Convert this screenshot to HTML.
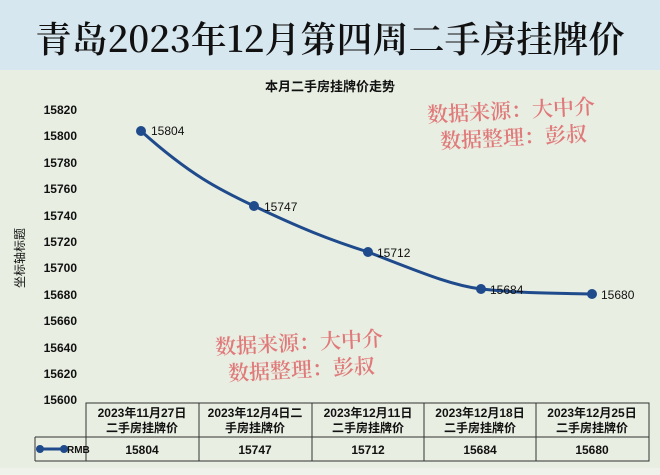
<!DOCTYPE html>
<html><head><meta charset="utf-8"><style>
body{margin:0;width:660px;height:475px;overflow:hidden;background:#eef2ea;font-family:"Liberation Sans","Noto Sans CJK SC",sans-serif}
</style></head><body>
<svg width="660" height="475" xmlns="http://www.w3.org/2000/svg" style="position:absolute;left:0;top:0">
<rect x="0" y="0" width="660" height="475" fill="#eef2ea"/>
<rect x="0" y="0" width="660" height="70" fill="#d7e7ef"/>
<rect x="0" y="70" width="660" height="398" fill="#e8eee2"/>
<text x="330" y="52" text-anchor="middle" font-family="Noto Serif CJK SC,serif" font-size="36" font-weight="600" fill="#111">青岛2023年12月第四周二手房挂牌价</text>
<text x="330" y="91" text-anchor="middle" font-size="13" font-weight="bold" fill="#111">本月二手房挂牌价走势</text>
<g font-size="12" font-weight="bold" fill="#111" text-anchor="end">
<text x="77" y="114">15820</text><text x="77" y="140">15800</text><text x="77" y="167">15780</text><text x="77" y="193">15760</text><text x="77" y="220">15740</text><text x="77" y="246">15720</text><text x="77" y="272">15700</text><text x="77" y="299">15680</text><text x="77" y="325">15660</text><text x="77" y="352">15640</text><text x="77" y="378">15620</text><text x="77" y="404">15600</text>
</g>
<text transform="translate(24,258) rotate(-90)" text-anchor="middle" font-size="12" fill="#111">坐标轴标题</text>
<path d="M141,131 C190,175 220,190 254,206 C300,228 330,240 368,252 C420,272 450,285 481,289 C530,294 560,293 592,294" fill="none" stroke="#1f4a8c" stroke-width="3"/>
<g fill="#1f4a8c"><circle cx="141" cy="131" r="5"/><circle cx="254" cy="206" r="5"/><circle cx="368" cy="252" r="5"/><circle cx="481" cy="289" r="5"/><circle cx="592" cy="294" r="5"/></g>
<g font-size="12" fill="#111"><text x="151" y="135">15804</text><text x="264" y="211">15747</text><text x="377" y="257">15712</text><text x="490" y="294">15684</text><text x="601" y="299">15680</text></g>
<g font-family="Noto Serif CJK SC,serif" font-size="21" font-weight="600" fill="#e07a7a">
<text x="427" y="118" transform="rotate(-3 510 110)">数据来源：大中介</text><text x="440" y="145" transform="rotate(-3 510 138)">数据整理：彭叔</text>
<text x="215" y="350" transform="rotate(-3 300 342)">数据来源：大中介</text><text x="228" y="377" transform="rotate(-3 300 370)">数据整理：彭叔</text>
</g>
<g stroke="#333" stroke-width="1" fill="none">
<rect x="86" y="403" width="563" height="58"/>
<line x1="35" y1="437" x2="649" y2="437"/>
<line x1="35" y1="437" x2="35" y2="461"/><line x1="35" y1="461" x2="86" y2="461"/>
<line x1="199" y1="403" x2="199" y2="461"/><line x1="312" y1="403" x2="312" y2="461"/><line x1="424" y1="403" x2="424" y2="461"/><line x1="536" y1="403" x2="536" y2="461"/>
</g>
<line x1="40" y1="449" x2="64" y2="449" stroke="#1f4a8c" stroke-width="3"/>
<circle cx="40" cy="449" r="4" fill="#1f4a8c"/><circle cx="64" cy="449" r="4" fill="#1f4a8c"/>
<text x="67" y="453" font-size="10" font-weight="bold" fill="#111">RMB</text>
<g font-size="12" font-weight="bold" fill="#111" text-anchor="middle">
<text x="142" y="417">2023年11月27日</text><text x="142" y="432">二手房挂牌价</text>
<text x="255" y="417">2023年12月4日二</text><text x="255" y="432">手房挂牌价</text>
<text x="368" y="417">2023年12月11日</text><text x="368" y="432">二手房挂牌价</text>
<text x="480" y="417">2023年12月18日</text><text x="480" y="432">二手房挂牌价</text>
<text x="592" y="417">2023年12月25日</text><text x="592" y="432">二手房挂牌价</text>
<text x="142" y="454">15804</text><text x="255" y="454">15747</text><text x="368" y="454">15712</text><text x="480" y="454">15684</text><text x="592" y="454">15680</text>
</g>
</svg>
</body></html>
